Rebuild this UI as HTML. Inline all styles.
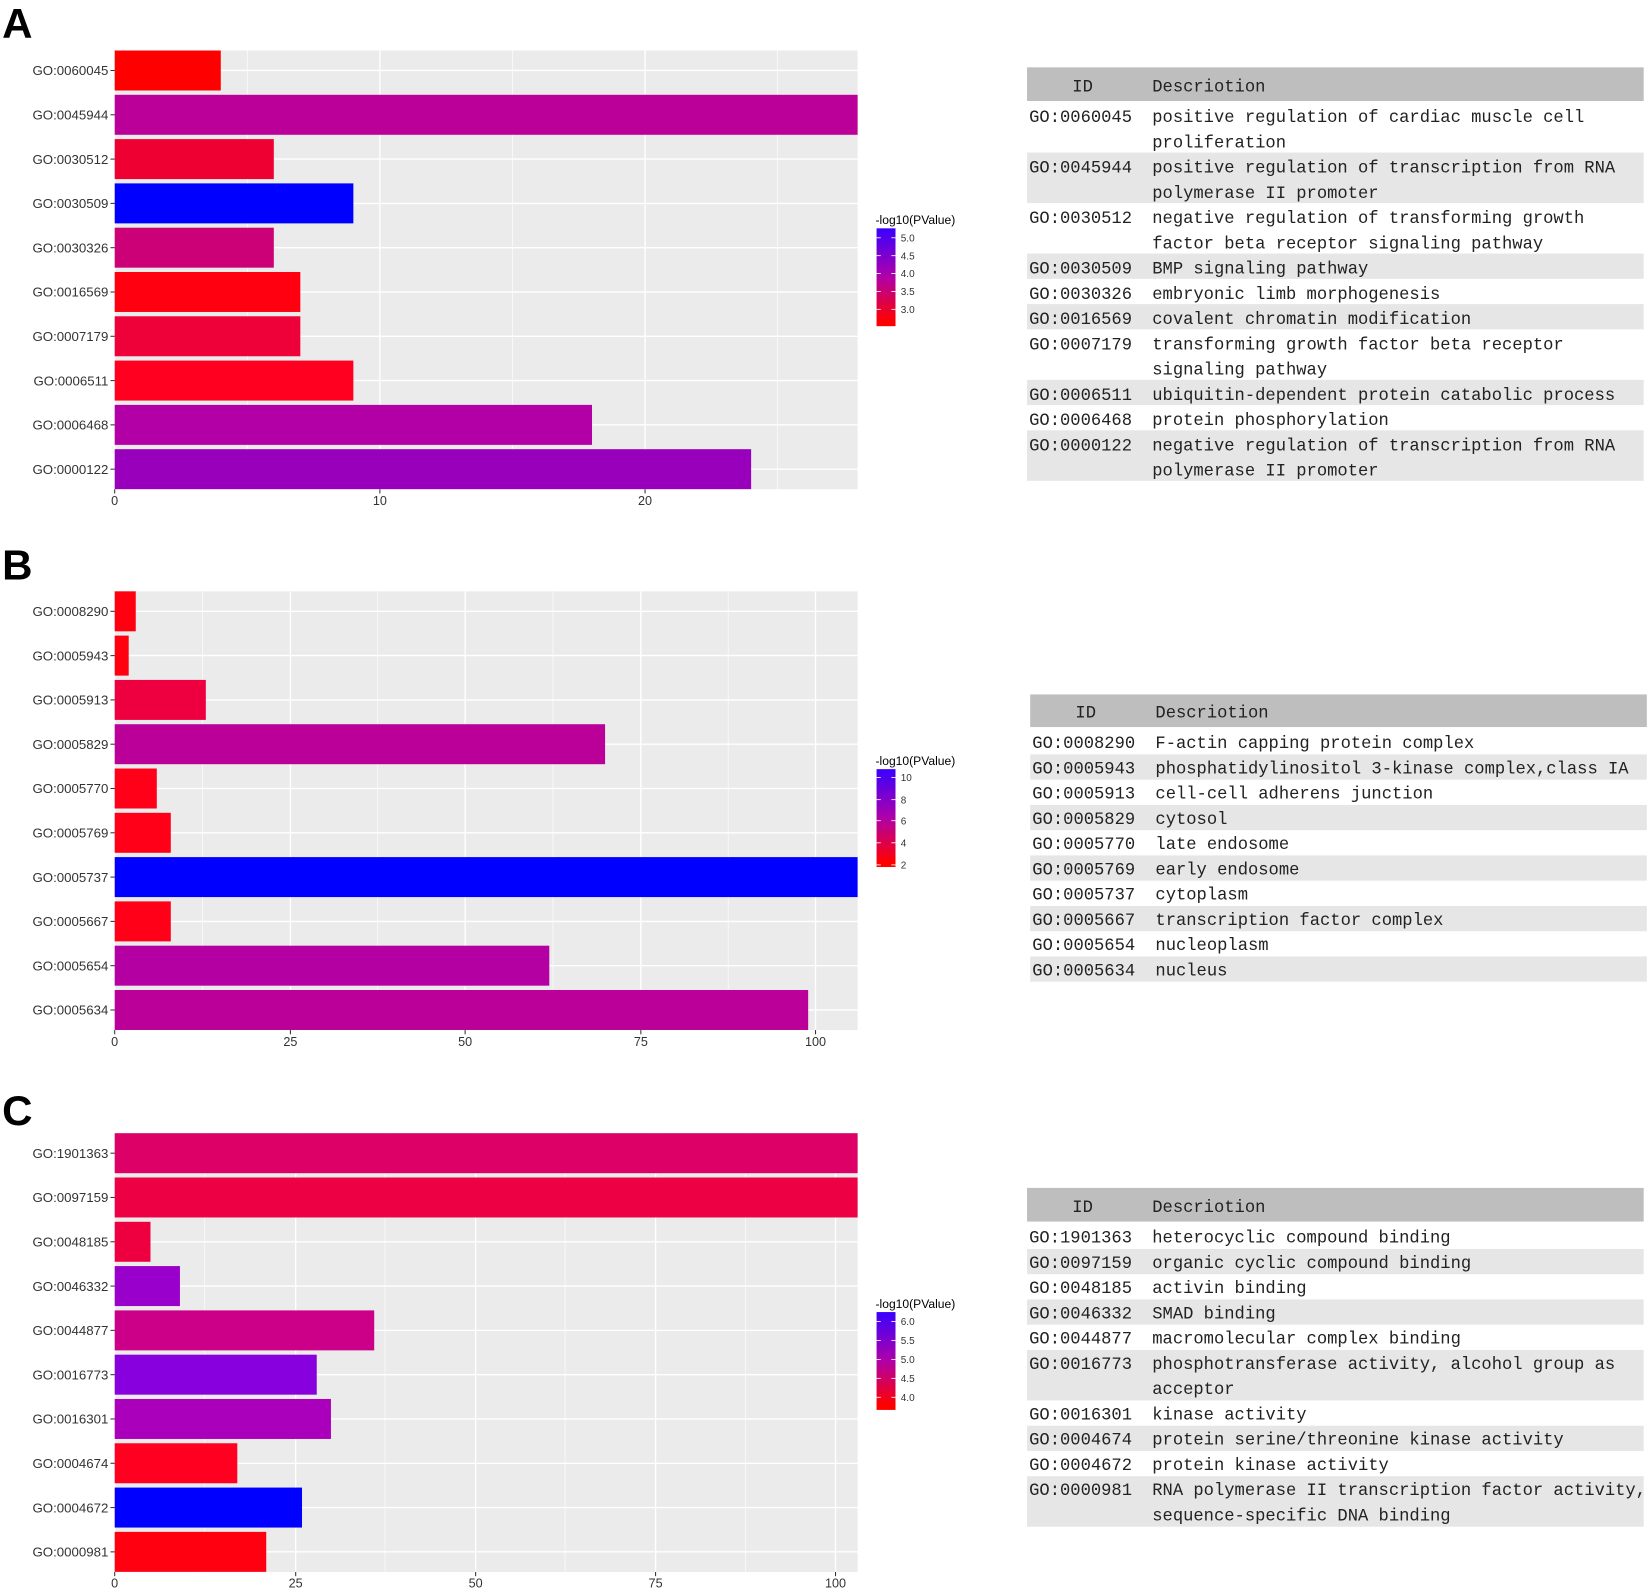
<!DOCTYPE html>
<html><head><meta charset="utf-8"><style>
html,body{margin:0;padding:0;background:#fff;}
svg{display:block;}
.yl{font-family:"Liberation Sans",sans-serif;font-size:12.6px;fill:#333;text-anchor:end;}
.xl{font-family:"Liberation Sans",sans-serif;font-size:12px;fill:#333;text-anchor:middle;}
.lt{font-family:"Liberation Sans",sans-serif;font-size:11.5px;fill:#000;}
.ll{font-family:"Liberation Sans",sans-serif;font-size:9.5px;fill:#333;}
.tb{font-family:"Liberation Mono",monospace;font-size:16.3px;fill:#222;}
.pl{font-family:"Liberation Sans","DejaVu Sans",sans-serif;font-size:40px;fill:#000;font-weight:bold;}
</style></head><body>
<svg width="1650" height="1593" viewBox="0 0 1568 1514" preserveAspectRatio="none" xmlns="http://www.w3.org/2000/svg">
<defs>
<linearGradient id="lg" x1="0" y1="0" x2="0" y2="1">
<stop offset="0" stop-color="#3a00ff"/><stop offset="0.5" stop-color="#b000a8"/><stop offset="0.95" stop-color="#ff0000"/>
</linearGradient>
</defs>

<text class="pl" x="2" y="36">A</text>
<text class="pl" x="2" y="551">B</text>
<text class="pl" x="2" y="1069">C</text>

<!-- ================= PANEL A ================= -->
<g transform="translate(0,48)">
<rect x="109" y="0" width="706" height="417" fill="#ebebeb"/>
<g stroke="#fff" stroke-width="0.6"><line x1="235" y1="0" x2="235" y2="417"/><line x1="487" y1="0" x2="487" y2="417"/><line x1="739" y1="0" x2="739" y2="417"/></g>
<g stroke="#fff" stroke-width="1.3"><line x1="109" y1="0" x2="109" y2="417"/><line x1="361" y1="0" x2="361" y2="417"/><line x1="613" y1="0" x2="613" y2="417"/>
<line x1="109" y1="19" x2="815" y2="19"/><line x1="109" y1="61.1" x2="815" y2="61.1"/><line x1="109" y1="103.2" x2="815" y2="103.2"/><line x1="109" y1="145.3" x2="815" y2="145.3"/><line x1="109" y1="187.4" x2="815" y2="187.4"/><line x1="109" y1="229.5" x2="815" y2="229.5"/><line x1="109" y1="271.6" x2="815" y2="271.6"/><line x1="109" y1="313.7" x2="815" y2="313.7"/><line x1="109" y1="355.8" x2="815" y2="355.8"/><line x1="109" y1="397.9" x2="815" y2="397.9"/></g>
<rect x="109" y="0" width="100.8" height="38" fill="#ff0000"/>
<rect x="109" y="42.1" width="706" height="38" fill="#bb0099"/>
<rect x="109" y="84.2" width="151.2" height="38" fill="#ee0033"/>
<rect x="109" y="126.3" width="226.8" height="38" fill="#0000ff"/>
<rect x="109" y="168.4" width="151.2" height="38" fill="#cc0077"/>
<rect x="109" y="210.5" width="176.4" height="38" fill="#ff0011"/>
<rect x="109" y="252.6" width="176.4" height="38" fill="#ee0038"/>
<rect x="109" y="294.7" width="226.8" height="38" fill="#ff0020"/>
<rect x="109" y="336.8" width="453.6" height="38" fill="#b300a6"/>
<rect x="109" y="378.9" width="604.8" height="38" fill="#9900bb"/>
<g stroke="#333" stroke-width="1"><line x1="105" y1="19" x2="109" y2="19"/><line x1="105" y1="61.1" x2="109" y2="61.1"/><line x1="105" y1="103.2" x2="109" y2="103.2"/><line x1="105" y1="145.3" x2="109" y2="145.3"/><line x1="105" y1="187.4" x2="109" y2="187.4"/><line x1="105" y1="229.5" x2="109" y2="229.5"/><line x1="105" y1="271.6" x2="109" y2="271.6"/><line x1="105" y1="313.7" x2="109" y2="313.7"/><line x1="105" y1="355.8" x2="109" y2="355.8"/><line x1="105" y1="397.9" x2="109" y2="397.9"/>
<line x1="109" y1="417" x2="109" y2="421"/><line x1="361" y1="417" x2="361" y2="421"/><line x1="613" y1="417" x2="613" y2="421"/></g>
<text class="yl" x="103" y="23.5">GO:0060045</text>
<text class="yl" x="103" y="65.6">GO:0045944</text>
<text class="yl" x="103" y="107.7">GO:0030512</text>
<text class="yl" x="103" y="149.8">GO:0030509</text>
<text class="yl" x="103" y="191.9">GO:0030326</text>
<text class="yl" x="103" y="234">GO:0016569</text>
<text class="yl" x="103" y="276.1">GO:0007179</text>
<text class="yl" x="103" y="318.2">GO:0006511</text>
<text class="yl" x="103" y="360.3">GO:0006468</text>
<text class="yl" x="103" y="402.4">GO:0000122</text>
<text class="xl" x="109" y="432">0</text><text class="xl" x="361" y="432">10</text><text class="xl" x="613" y="432">20</text>
</g>
<text class="lt" x="832" y="213">-log10(PValue)</text>
<rect x="833" y="217" width="18" height="93" fill="url(#lg)"/>
<g stroke="#fff" stroke-width="0.8"><line x1="833" y1="226" x2="837" y2="226"/><line x1="847" y1="226" x2="851" y2="226"/><line x1="833" y1="243" x2="837" y2="243"/><line x1="847" y1="243" x2="851" y2="243"/><line x1="833" y1="260" x2="837" y2="260"/><line x1="847" y1="260" x2="851" y2="260"/><line x1="833" y1="277" x2="837" y2="277"/><line x1="847" y1="277" x2="851" y2="277"/><line x1="833" y1="294" x2="837" y2="294"/><line x1="847" y1="294" x2="851" y2="294"/></g>
<text class="ll" x="856" y="229.5">5.0</text><text class="ll" x="856" y="246.5">4.5</text><text class="ll" x="856" y="263.5">4.0</text><text class="ll" x="856" y="280.5">3.5</text><text class="ll" x="856" y="297.5">3.0</text>

<rect x="976" y="64" width="586" height="32" fill="#bebebe"/>
<g fill="#e6e6e6"><rect x="976" y="145" width="586" height="48"/><rect x="976" y="241" width="586" height="24"/><rect x="976" y="289" width="586" height="24"/><rect x="976" y="361" width="586" height="24"/><rect x="976" y="409" width="586" height="48"/></g>
<text class="tb" x="1019" y="87">ID</text><text class="tb" x="1095" y="87">Descriotion</text>
<text class="tb" x="978" y="116">GO:0060045</text><text class="tb" x="1095" y="116">positive regulation of cardiac muscle cell</text><text class="tb" x="1095" y="140">proliferation</text>
<text class="tb" x="978" y="164">GO:0045944</text><text class="tb" x="1095" y="164">positive regulation of transcription from RNA</text><text class="tb" x="1095" y="188">polymerase II promoter</text>
<text class="tb" x="978" y="212">GO:0030512</text><text class="tb" x="1095" y="212">negative regulation of transforming growth</text><text class="tb" x="1095" y="236">factor beta receptor signaling pathway</text>
<text class="tb" x="978" y="260">GO:0030509</text><text class="tb" x="1095" y="260">BMP signaling pathway</text>
<text class="tb" x="978" y="284">GO:0030326</text><text class="tb" x="1095" y="284">embryonic limb morphogenesis</text>
<text class="tb" x="978" y="308">GO:0016569</text><text class="tb" x="1095" y="308">covalent chromatin modification</text>
<text class="tb" x="978" y="332">GO:0007179</text><text class="tb" x="1095" y="332">transforming growth factor beta receptor</text><text class="tb" x="1095" y="356">signaling pathway</text>
<text class="tb" x="978" y="380">GO:0006511</text><text class="tb" x="1095" y="380">ubiquitin-dependent protein catabolic process</text>
<text class="tb" x="978" y="404">GO:0006468</text><text class="tb" x="1095" y="404">protein phosphorylation</text>
<text class="tb" x="978" y="428">GO:0000122</text><text class="tb" x="1095" y="428">negative regulation of transcription from RNA</text><text class="tb" x="1095" y="452">polymerase II promoter</text>

<!-- ================= PANEL B ================= -->
<g transform="translate(0,562)">
<rect x="109" y="0" width="706" height="417" fill="#ebebeb"/>
<g stroke="#fff" stroke-width="0.6"><line x1="192.3" y1="0" x2="192.3" y2="417"/><line x1="359" y1="0" x2="359" y2="417"/><line x1="525.5" y1="0" x2="525.5" y2="417"/><line x1="692" y1="0" x2="692" y2="417"/></g>
<g stroke="#fff" stroke-width="1.3"><line x1="109" y1="0" x2="109" y2="417"/><line x1="276" y1="0" x2="276" y2="417"/><line x1="442" y1="0" x2="442" y2="417"/><line x1="609" y1="0" x2="609" y2="417"/><line x1="775" y1="0" x2="775" y2="417"/>
<line x1="109" y1="19" x2="815" y2="19"/><line x1="109" y1="61.1" x2="815" y2="61.1"/><line x1="109" y1="103.2" x2="815" y2="103.2"/><line x1="109" y1="145.3" x2="815" y2="145.3"/><line x1="109" y1="187.4" x2="815" y2="187.4"/><line x1="109" y1="229.5" x2="815" y2="229.5"/><line x1="109" y1="271.6" x2="815" y2="271.6"/><line x1="109" y1="313.7" x2="815" y2="313.7"/><line x1="109" y1="355.8" x2="815" y2="355.8"/><line x1="109" y1="397.9" x2="815" y2="397.9"/></g>
<rect x="109" y="0" width="20" height="38" fill="#ff0010"/>
<rect x="109" y="42.1" width="13.3" height="38" fill="#ff0010"/>
<rect x="109" y="84.2" width="86.6" height="38" fill="#ee0040"/>
<rect x="109" y="126.3" width="466" height="38" fill="#bb0099"/>
<rect x="109" y="168.4" width="40" height="38" fill="#ff0018"/>
<rect x="109" y="210.5" width="53.3" height="38" fill="#ff0018"/>
<rect x="109" y="252.6" width="706" height="38" fill="#0000ff"/>
<rect x="109" y="294.7" width="53.3" height="38" fill="#ff0018"/>
<rect x="109" y="336.8" width="413" height="38" fill="#b400a2"/>
<rect x="109" y="378.9" width="659" height="38" fill="#bb0099"/>
<g stroke="#333" stroke-width="1"><line x1="105" y1="19" x2="109" y2="19"/><line x1="105" y1="61.1" x2="109" y2="61.1"/><line x1="105" y1="103.2" x2="109" y2="103.2"/><line x1="105" y1="145.3" x2="109" y2="145.3"/><line x1="105" y1="187.4" x2="109" y2="187.4"/><line x1="105" y1="229.5" x2="109" y2="229.5"/><line x1="105" y1="271.6" x2="109" y2="271.6"/><line x1="105" y1="313.7" x2="109" y2="313.7"/><line x1="105" y1="355.8" x2="109" y2="355.8"/><line x1="105" y1="397.9" x2="109" y2="397.9"/>
<line x1="109" y1="417" x2="109" y2="421"/><line x1="276" y1="417" x2="276" y2="421"/><line x1="442" y1="417" x2="442" y2="421"/><line x1="609" y1="417" x2="609" y2="421"/><line x1="775" y1="417" x2="775" y2="421"/></g>
<text class="yl" x="103" y="23.5">GO:0008290</text>
<text class="yl" x="103" y="65.6">GO:0005943</text>
<text class="yl" x="103" y="107.7">GO:0005913</text>
<text class="yl" x="103" y="149.8">GO:0005829</text>
<text class="yl" x="103" y="191.9">GO:0005770</text>
<text class="yl" x="103" y="234">GO:0005769</text>
<text class="yl" x="103" y="276.1">GO:0005737</text>
<text class="yl" x="103" y="318.2">GO:0005667</text>
<text class="yl" x="103" y="360.3">GO:0005654</text>
<text class="yl" x="103" y="402.4">GO:0005634</text>
<text class="xl" x="109" y="432">0</text><text class="xl" x="276" y="432">25</text><text class="xl" x="442" y="432">50</text><text class="xl" x="609" y="432">75</text><text class="xl" x="775" y="432">100</text>
</g>
<text class="lt" x="832" y="727">-log10(PValue)</text>
<rect x="833" y="731" width="18" height="93" fill="url(#lg)"/>
<g stroke="#fff" stroke-width="0.8"><line x1="833" y1="739" x2="837" y2="739"/><line x1="847" y1="739" x2="851" y2="739"/><line x1="833" y1="760" x2="837" y2="760"/><line x1="847" y1="760" x2="851" y2="760"/><line x1="833" y1="780" x2="837" y2="780"/><line x1="847" y1="780" x2="851" y2="780"/><line x1="833" y1="801" x2="837" y2="801"/><line x1="847" y1="801" x2="851" y2="801"/><line x1="833" y1="822" x2="837" y2="822"/><line x1="847" y1="822" x2="851" y2="822"/></g>
<text class="ll" x="856" y="742.5">10</text><text class="ll" x="856" y="763.5">8</text><text class="ll" x="856" y="783.5">6</text><text class="ll" x="856" y="804.5">4</text><text class="ll" x="856" y="825.5">2</text>

<rect x="979" y="660" width="586" height="31" fill="#bebebe"/>
<g fill="#e6e6e6"><rect x="979" y="717" width="586" height="24"/><rect x="979" y="765" width="586" height="24"/><rect x="979" y="813" width="586" height="24"/><rect x="979" y="861" width="586" height="24"/><rect x="979" y="909" width="586" height="24"/></g>
<text class="tb" x="1022" y="682">ID</text><text class="tb" x="1098" y="682">Descriotion</text>
<text class="tb" x="981" y="711">GO:0008290</text><text class="tb" x="1098" y="711">F-actin capping protein complex</text>
<text class="tb" x="981" y="735">GO:0005943</text><text class="tb" x="1098" y="735">phosphatidylinositol 3-kinase complex,class IA</text>
<text class="tb" x="981" y="759">GO:0005913</text><text class="tb" x="1098" y="759">cell-cell adherens junction</text>
<text class="tb" x="981" y="783">GO:0005829</text><text class="tb" x="1098" y="783">cytosol</text>
<text class="tb" x="981" y="807">GO:0005770</text><text class="tb" x="1098" y="807">late endosome</text>
<text class="tb" x="981" y="831">GO:0005769</text><text class="tb" x="1098" y="831">early endosome</text>
<text class="tb" x="981" y="855">GO:0005737</text><text class="tb" x="1098" y="855">cytoplasm</text>
<text class="tb" x="981" y="879">GO:0005667</text><text class="tb" x="1098" y="879">transcription factor complex</text>
<text class="tb" x="981" y="903">GO:0005654</text><text class="tb" x="1098" y="903">nucleoplasm</text>
<text class="tb" x="981" y="927">GO:0005634</text><text class="tb" x="1098" y="927">nucleus</text>

<!-- ================= PANEL C ================= -->
<g transform="translate(0,1077)">
<rect x="109" y="0" width="706" height="417" fill="#ebebeb"/>
<g stroke="#fff" stroke-width="0.6"><line x1="194.6" y1="0" x2="194.6" y2="417"/><line x1="365.9" y1="0" x2="365.9" y2="417"/><line x1="537" y1="0" x2="537" y2="417"/><line x1="708.4" y1="0" x2="708.4" y2="417"/></g>
<g stroke="#fff" stroke-width="1.3"><line x1="109" y1="0" x2="109" y2="417"/><line x1="281" y1="0" x2="281" y2="417"/><line x1="452" y1="0" x2="452" y2="417"/><line x1="623" y1="0" x2="623" y2="417"/><line x1="794" y1="0" x2="794" y2="417"/>
<line x1="109" y1="19" x2="815" y2="19"/><line x1="109" y1="61.1" x2="815" y2="61.1"/><line x1="109" y1="103.2" x2="815" y2="103.2"/><line x1="109" y1="145.3" x2="815" y2="145.3"/><line x1="109" y1="187.4" x2="815" y2="187.4"/><line x1="109" y1="229.5" x2="815" y2="229.5"/><line x1="109" y1="271.6" x2="815" y2="271.6"/><line x1="109" y1="313.7" x2="815" y2="313.7"/><line x1="109" y1="355.8" x2="815" y2="355.8"/><line x1="109" y1="397.9" x2="815" y2="397.9"/></g>
<rect x="109" y="0" width="706" height="38" fill="#dd0066"/>
<rect x="109" y="42.1" width="706" height="38" fill="#ee0044"/>
<rect x="109" y="84.2" width="34" height="38" fill="#ee0040"/>
<rect x="109" y="126.3" width="62" height="38" fill="#9900cc"/>
<rect x="109" y="168.4" width="246.6" height="38" fill="#cc0088"/>
<rect x="109" y="210.5" width="192" height="38" fill="#8800dd"/>
<rect x="109" y="252.6" width="205.5" height="38" fill="#aa00bb"/>
<rect x="109" y="294.7" width="116.5" height="38" fill="#ff0020"/>
<rect x="109" y="336.8" width="178" height="38" fill="#0000ff"/>
<rect x="109" y="378.9" width="144" height="38" fill="#ff0010"/>
<g stroke="#333" stroke-width="1"><line x1="105" y1="19" x2="109" y2="19"/><line x1="105" y1="61.1" x2="109" y2="61.1"/><line x1="105" y1="103.2" x2="109" y2="103.2"/><line x1="105" y1="145.3" x2="109" y2="145.3"/><line x1="105" y1="187.4" x2="109" y2="187.4"/><line x1="105" y1="229.5" x2="109" y2="229.5"/><line x1="105" y1="271.6" x2="109" y2="271.6"/><line x1="105" y1="313.7" x2="109" y2="313.7"/><line x1="105" y1="355.8" x2="109" y2="355.8"/><line x1="105" y1="397.9" x2="109" y2="397.9"/>
<line x1="109" y1="417" x2="109" y2="421"/><line x1="281" y1="417" x2="281" y2="421"/><line x1="452" y1="417" x2="452" y2="421"/><line x1="623" y1="417" x2="623" y2="421"/><line x1="794" y1="417" x2="794" y2="421"/></g>
<text class="yl" x="103" y="23.5">GO:1901363</text>
<text class="yl" x="103" y="65.6">GO:0097159</text>
<text class="yl" x="103" y="107.7">GO:0048185</text>
<text class="yl" x="103" y="149.8">GO:0046332</text>
<text class="yl" x="103" y="191.9">GO:0044877</text>
<text class="yl" x="103" y="234">GO:0016773</text>
<text class="yl" x="103" y="276.1">GO:0016301</text>
<text class="yl" x="103" y="318.2">GO:0004674</text>
<text class="yl" x="103" y="360.3">GO:0004672</text>
<text class="yl" x="103" y="402.4">GO:0000981</text>
<text class="xl" x="109" y="432">0</text><text class="xl" x="281" y="432">25</text><text class="xl" x="452" y="432">50</text><text class="xl" x="623" y="432">75</text><text class="xl" x="794" y="432">100</text>
</g>
<text class="lt" x="832" y="1243">-log10(PValue)</text>
<rect x="833" y="1247" width="18" height="93" fill="url(#lg)"/>
<g stroke="#fff" stroke-width="0.8"><line x1="833" y1="1256" x2="837" y2="1256"/><line x1="847" y1="1256" x2="851" y2="1256"/><line x1="833" y1="1274" x2="837" y2="1274"/><line x1="847" y1="1274" x2="851" y2="1274"/><line x1="833" y1="1292" x2="837" y2="1292"/><line x1="847" y1="1292" x2="851" y2="1292"/><line x1="833" y1="1310" x2="837" y2="1310"/><line x1="847" y1="1310" x2="851" y2="1310"/><line x1="833" y1="1328" x2="837" y2="1328"/><line x1="847" y1="1328" x2="851" y2="1328"/></g>
<text class="ll" x="856" y="1259.5">6.0</text><text class="ll" x="856" y="1277.5">5.5</text><text class="ll" x="856" y="1295.5">5.0</text><text class="ll" x="856" y="1313.5">4.5</text><text class="ll" x="856" y="1331.5">4.0</text>

<rect x="976" y="1129" width="586" height="32" fill="#bebebe"/>
<g fill="#e6e6e6"><rect x="976" y="1187" width="586" height="24"/><rect x="976" y="1235" width="586" height="24"/><rect x="976" y="1283" width="586" height="48"/><rect x="976" y="1355" width="586" height="24"/><rect x="976" y="1403" width="586" height="48"/></g>
<text class="tb" x="1019" y="1152">ID</text><text class="tb" x="1095" y="1152">Descriotion</text>
<text class="tb" x="978" y="1181">GO:1901363</text><text class="tb" x="1095" y="1181">heterocyclic compound binding</text>
<text class="tb" x="978" y="1205">GO:0097159</text><text class="tb" x="1095" y="1205">organic cyclic compound binding</text>
<text class="tb" x="978" y="1229">GO:0048185</text><text class="tb" x="1095" y="1229">activin binding</text>
<text class="tb" x="978" y="1253">GO:0046332</text><text class="tb" x="1095" y="1253">SMAD binding</text>
<text class="tb" x="978" y="1277">GO:0044877</text><text class="tb" x="1095" y="1277">macromolecular complex binding</text>
<text class="tb" x="978" y="1301">GO:0016773</text><text class="tb" x="1095" y="1301">phosphotransferase activity, alcohol group as</text><text class="tb" x="1095" y="1325">acceptor</text>
<text class="tb" x="978" y="1349">GO:0016301</text><text class="tb" x="1095" y="1349">kinase activity</text>
<text class="tb" x="978" y="1373">GO:0004674</text><text class="tb" x="1095" y="1373">protein serine/threonine kinase activity</text>
<text class="tb" x="978" y="1397">GO:0004672</text><text class="tb" x="1095" y="1397">protein kinase activity</text>
<text class="tb" x="978" y="1421">GO:0000981</text><text class="tb" x="1095" y="1421">RNA polymerase II transcription factor activity,</text><text class="tb" x="1095" y="1445">sequence-specific DNA binding</text>
</svg>
</body></html>
